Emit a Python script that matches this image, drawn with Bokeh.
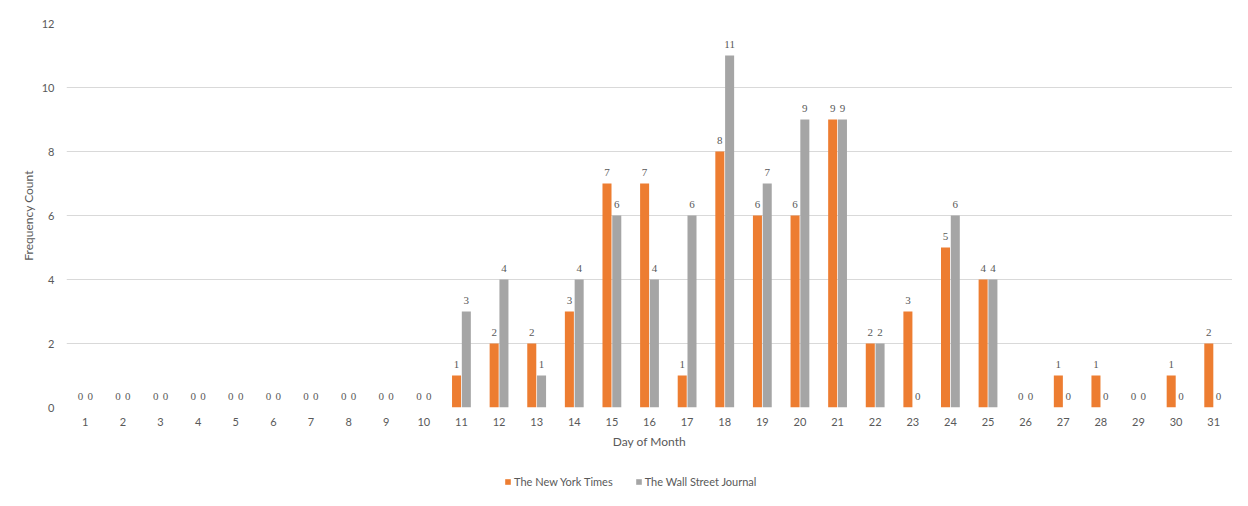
from bokeh.plotting import figure
from bokeh.layouts import column
from bokeh.models import Range1d, FixedTicker, ColumnDataSource, LabelSet, Legend, LegendItem
from bokeh.transform import dodge
from bokeh.embed import file_html
from bokeh.resources import INLINE

days = list(range(1, 32))
nyt = [0, 0, 0, 0, 0, 0, 0, 0, 0, 0,
       1, 2, 2, 3, 7, 7, 1, 8, 6, 6,
       9, 2, 3, 5, 4, 0, 1, 1, 0, 1, 2]
wsj = [0, 0, 0, 0, 0, 0, 0, 0, 0, 0,
       3, 4, 1, 4, 6, 4, 6, 11, 7, 9,
       9, 2, 0, 6, 4, 0, 0, 0, 0, 0, 0]
series_names = ["The New York Times", "The Wall Street Journal"]
y_ticks = [0, 2, 4, 6, 8, 10, 12]

ORANGE = "#ED7D31"
GRAY = "#A5A5A5"
TXT = "#595959"
FONT = "Lato"

src = ColumnDataSource(dict(day=days, nyt=nyt, wsj=wsj,
                            nyt_s=[str(v) for v in nyt],
                            wsj_s=[str(v) for v in wsj]))

p = figure(width=1232, height=472, output_backend="svg", toolbar_location=None,
           x_range=Range1d(0.5, 31.5), y_range=Range1d(0, 12),
           min_border_left=66, min_border_right=0, min_border_top=23, min_border_bottom=65)
p.outline_line_color = None
p.xgrid.grid_line_color = None
p.ygrid.grid_line_color = "#D9D9D9"
p.ygrid.grid_line_width = 1

off = 0.13
w = 0.24
r1 = p.vbar(x=dodge("day", -off, range=p.x_range), top="nyt", width=w, source=src,
            fill_color=ORANGE, line_color=None)
r2 = p.vbar(x=dodge("day", off, range=p.x_range), top="wsj", width=w, source=src,
            fill_color=GRAY, line_color=None)

for col, dx in (("nyt_s", -off), ("wsj_s", off)):
    ycol = col[:-2]
    labels = LabelSet(x=dodge("day", dx, range=p.x_range), y=ycol, text=col, source=src,
                      text_align="center", text_baseline="bottom", y_offset=8,
                      text_font=FONT, text_font_size="11px", text_color=TXT)
    p.add_layout(labels)

p.xaxis.ticker = FixedTicker(ticks=days)
p.yaxis.ticker = FixedTicker(ticks=y_ticks)
for ax in (p.xaxis, p.yaxis):
    ax.axis_line_color = None
    ax.major_tick_line_color = None
    ax.minor_tick_line_color = None
    ax.major_tick_out = 0
    ax.major_tick_in = 0
    ax.minor_tick_out = 0
    ax.minor_tick_in = 0
    ax.major_label_text_font = FONT
    ax.major_label_text_font_size = "11px"
    ax.major_label_text_color = TXT
    ax.axis_label_text_font = FONT
    ax.axis_label_text_font_size = "12px"
    ax.axis_label_text_font_style = "normal"
    ax.axis_label_text_color = TXT
p.xaxis.axis_label = "Day of Month"
p.yaxis.axis_label = "Frequency Count"
p.xaxis.major_label_standoff = 10
p.yaxis.major_label_standoff = 12
p.xaxis.axis_label_standoff = 5
p.yaxis.axis_label_standoff = 3

# separate strip for the legend, below the chart
leg = figure(width=1232, height=18, output_backend="svg", toolbar_location=None,
             x_range=Range1d(0, 1), y_range=Range1d(0, 1),
             x_axis_location=None, y_axis_location=None, min_border=0)
leg.outline_line_color = None
leg.grid.visible = False
d1 = leg.vbar(x=[5], top=[1], width=0.1, fill_color=ORANGE, line_color=None)
d2 = leg.vbar(x=[5], top=[1], width=0.1, fill_color=GRAY, line_color=None)
legend = Legend(items=[LegendItem(label=series_names[0], renderers=[d1]),
                       LegendItem(label=series_names[1], renderers=[d2])],
                orientation="horizontal", location=(438, 2),
                label_text_font=FONT, label_text_font_size="11px", label_text_color=TXT,
                glyph_width=7, glyph_height=7, label_standoff=3, spacing=22,
                label_height=12, border_line_color=None, background_fill_alpha=0,
                margin=0, padding=0)
leg.add_layout(legend, "center")

layout = column(p, leg, spacing=0)
open("out.html", "w").write(file_html(layout, INLINE))
